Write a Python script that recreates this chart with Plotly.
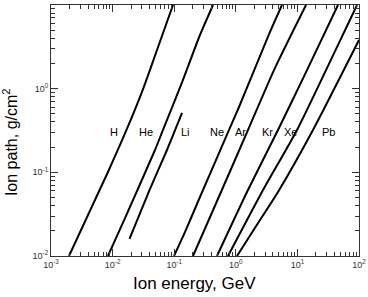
import math
import plotly.graph_objects as go

# Ion energy (GeV) and ion path (g/cm^2)
H_E = [0.00196, 0.00841, 0.0168, 0.0312, 0.0526, 0.0957]
H_R = [0.01, 0.101, 0.321, 0.99, 2.90, 10]

He_E = [0.0084, 0.0159, 0.0488, 0.0658, 0.129, 0.262, 0.427]
He_R = [0.01, 0.0284, 0.185, 0.321, 1.107, 4.38, 10]

Li_E = [0.0188, 0.0405, 0.0764, 0.134]
Li_R = [0.016, 0.0633, 0.185, 0.512]

Ne_E = [0.0993, 0.150, 0.262, 0.776, 1.127, 3.59, 5.62]
Ne_R = [0.01, 0.0194, 0.0507, 0.321, 0.604, 4.76, 10]

Ar_E = [0.202, 0.575, 1.58, 4.33, 13.8]
Ar_R = [0.01, 0.0582, 0.321, 1.77, 10]

Kr_E = [0.495, 1.52, 4.84, 14.9, 45.6]
Kr_R = [0.01, 0.0582, 0.321, 1.77, 10]

Xe_E = [0.747, 2.66, 9.86, 30.3, 92.9]
Xe_R = [0.01, 0.0582, 0.321, 1.77, 10]

Pb_E = [1.045, 2.47, 4.84, 17.9, 100]
Pb_R = [0.01, 0.0269, 0.0582, 0.321, 3.82]

series = [("H", H_E, H_R), ("He", He_E, He_R), ("Li", Li_E, Li_R),
          ("Ne", Ne_E, Ne_R), ("Ar", Ar_E, Ar_R), ("Kr", Kr_E, Kr_R),
          ("Xe", Xe_E, Xe_R), ("Pb", Pb_E, Pb_R)]

label_names = ["H", "He", "Li", "Ne", "Ar", "Kr", "Xe", "Pb"]
label_E = [0.0106, 0.0348, 0.150, 0.495, 1.17, 3.33, 7.59, 31.4]
label_R = [0.303, 0.303, 0.303, 0.303, 0.303, 0.303, 0.303, 0.303]

x_tickvals = [0.001, 0.01, 0.1, 1, 10, 100]
x_ticktext = ["10<sup>-3</sup>", "10<sup>-2</sup>", "10<sup>-1</sup>",
              "10<sup>0</sup>", "10<sup>1</sup>", "10<sup>2</sup>"]
y_tickvals = [0.01, 0.1, 1, 10]
y_ticktext = ["10<sup>-2</sup>", "10<sup>-1</sup>", "10<sup>0</sup>", "10<sup>1</sup>"]

x_title = "Ion energy, GeV"
y_title = "Ion path, g/cm<sup>2</sup>"

FONT = "Liberation Sans, Arial"

fig = go.Figure()
for name, e, r in series:
    fig.add_trace(go.Scatter(x=e, y=r, mode="lines", name=name,
                             line=dict(color="black", width=2, shape="spline", smoothing=0.6),
                             showlegend=False, hoverinfo="skip"))

for n, e, r in zip(label_names, label_E, label_R):
    fig.add_annotation(x=math.log10(e), y=math.log10(r),
                       text=n, showarrow=False, xref="x", yref="y",
                       font=dict(size=11, color="black", family=FONT))

# axis titles placed as in the reference
fig.add_annotation(text=x_title, xref="paper", yref="paper", x=0.4675, y=-0.108,
                   xanchor="center", yanchor="middle", showarrow=False,
                   font=dict(size=17, color="black", family=FONT))
fig.add_annotation(text=y_title, xref="paper", yref="paper", x=-0.133, y=0.454,
                   xanchor="center", yanchor="middle", showarrow=False, textangle=-90,
                   font=dict(size=16, color="black", family=FONT))

axis_common = dict(
    type="log", showgrid=False, zeroline=False, automargin=False,
    showline=True, linecolor="#333", linewidth=1, mirror="ticks",
    ticks="inside", ticklen=7, tickcolor="#333", tickwidth=1,
    tickfont=dict(size=9, color="#333", family=FONT),
    minor=dict(ticks="inside", ticklen=4, tickcolor="#333", tickwidth=1, dtick="D1", showgrid=False),
)

fig.update_layout(
    width=368, height=297,
    margin=dict(l=51, r=9, t=5, b=41),
    paper_bgcolor="white", plot_bgcolor="white",
    font=dict(family=FONT, color="black"),
    xaxis=dict(axis_common, range=[-3, 2], tickvals=x_tickvals, ticktext=x_ticktext),
    yaxis=dict(axis_common, range=[-2, 1], tickvals=y_tickvals, ticktext=y_ticktext),
)

fig.write_html("out.html", config={"displayModeBar": False},
               post_script="document.body.style.margin='0';document.body.style.overflow='hidden';")
